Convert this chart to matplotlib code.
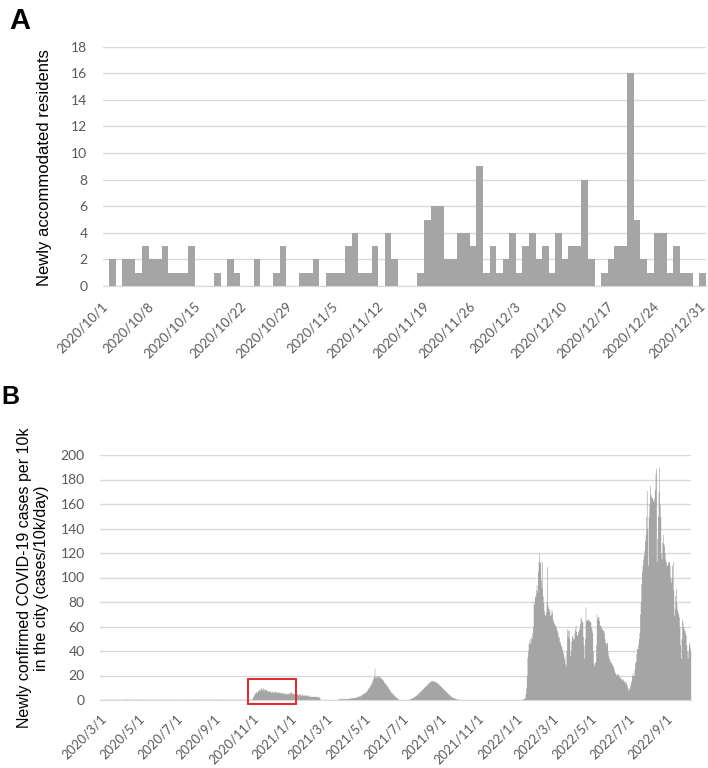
import numpy as np
import matplotlib
matplotlib.use('Agg')
import matplotlib.pyplot as plt
from matplotlib.patches import Rectangle

# ---------------- Panel A data (2020/10/1 - 2020/12/31) ----------------
residents_oct = [0, 2, 0, 2, 2, 1, 3, 2, 2, 3,  1, 1, 1, 3, 0, 0, 0, 1, 0, 2,
                 1, 0, 0, 2, 0, 0, 1, 3, 0, 0,  1]
residents_nov = [1, 2, 0, 1, 1, 1, 3, 4, 1, 1,  3, 0, 4, 2, 0, 0, 0, 1, 5, 6,
                 6, 2, 2, 4, 4, 3, 9, 1, 3, 1]
residents_dec = [2, 4, 1, 3, 4, 2, 3, 1, 4, 2,  3, 3, 8, 2, 0, 1, 2, 3, 3, 16,
                 5, 2, 1, 4, 4, 1, 3, 1, 1, 0,  1]
a_tick_labels = ['2020/10/1', '2020/10/8', '2020/10/15', '2020/10/22', '2020/10/29',
                 '2020/11/5', '2020/11/12', '2020/11/19', '2020/11/26', '2020/12/3',
                 '2020/12/10', '2020/12/17', '2020/12/24', '2020/12/31']

# ---------------- Panel B data (daily, from 2020/2/23) ----------------
cases_2020_start = '2020-02-23'
cases_2020 = [
    .5, .5, .5, .5, .5, .5, .5,                                             # Feb 23-29
    .5, .5, .5, .5, .5, .5, .5, .5, .5, .5,  .5, .5, .5, .5, .5, .5, .5, .5, .5, .5,
    .5, .5, .5, .5, 0, 0, 0, .5, .5, .5,  .5,                               # Mar
    .6, .6, .6, .6, .6, .6, .6, .6, .6, .6,  .6, .6, .6, .6, .6, .6, .6, .6, .6, .6,
    .6, .6, .6, .6, .6, .6, .6, .6, .6, .6,                                 # Apr
    .5, .5, .5, .5, .5, .5, .5, .5, .5, .5,  .5, .5, .5, .5, .5, .5, .5, .5, .5, .5,
    .5, .5, .5, .5, .5, .5, .5, .5, .5, .5,  .5,                            # May
    .5, .5, .5, .5, .5, .5, .5, .5, .5, .5,  .5, .5, .5, .5, .5, .5, .5, .5, .5, .5,
    .5, .5, .5, .5, .5, .5, 0, 0, 0, .5,                                    # Jun
    .5, .5, .5, .5, .5, .5, .5, .5, .5, .5,  .5, .5, .5, .5, .5, .5, .5, .5, .5, .5,
    .5, .5, .5, .5, .5, .5, .5, .5, .5, .5,  .5,                            # Jul
    .6, .6, .6, .6, .6, .6, .6, .6, .6, .6,  .6, .6, .6, .6, .6, .6, .6, .6, .6, .6,
    .6, .6, .6, .6, .6, .6, .6, .6, .6, .6,  .6,                            # Aug
    .5, .5, .5, .5, .5, .5, .5, .5, .5, .5,  .5, .5, .5, .5, .5, .5, .5, .5, .5, .5,
    .5, .5, .5, .5, .5, .5, .5, .5, .5, .5,                                 # Sep
    .5, .5, .5, .5, .5, .5, .5, .5, .5, .5,  .5, .5, .5, .5, .5, .5, .5, .5, .5, .5,
    .5, .5, .5, .5, 1, 2, 3, 4, 5, 6,  6,                                   # Oct
    7, 6, 7, 8, 8, 9, 8, 9, 10, 9,  8, 10, 9, 8, 9, 8, 9, 8, 7, 8,
    7, 7, 8, 7, 6, 7, 7, 6, 6, 7,                                           # Nov
    7, 7, 6, 7, 6, 6, 7, 6, 6, 6,  6, 5, 6, 6, 5, 6, 5, 5, 6, 5,
    5, 5, 6, 5, 6, 6, 7, 6, 5, 6,  5,                                       # Dec
]
cases_2021_start = '2021-01-01'
cases_2021 = [
    5, 5, 6, 5, 5, 5, 4, 5, 5, 4,  5, 4, 4, 5, 4, 4, 4, 4, 4, 4,
    4, 4, 3, 4, 4, 3, 3, 3, 3, 3,  3,                                       # Jan
    3, 3, 3, 3, 3, 3, 3, 2, 3, 3,  2, 1, .5, .3, .3, .3, .3, .3, .3, .3,
    .3, .3, .3, .3, .3, .3, .3, .3,                                         # Feb
    .3, .3, .3, .3, .3, .3, .3, .3, .3, .3,  .3, .3, .3, 1, 1, 1.5, 1, 1, 1, 1.5,
    1, 1, 1, 1.5, 1, 1, 1, 1.5, 1, 1.5,  1.5,                               # Mar
    1.5, 1.5, 2, 1.5, 2, 2, 2, 2, 2, 2,  2, 2.5, 3, 3, 3, 3.5, 3, 4, 4, 4,
    5, 5, 5, 6, 6, 6, 7, 7, 8, 9,                                           # Apr
    10, 10, 11, 12, 13, 14, 15, 17, 18, 19,  26, 19, 18, 20, 19, 20, 19, 20, 18, 19,
    18, 18, 17, 17, 16, 15, 14, 14, 13, 12,  12,                            # May
    11, 10, 9, 9, 8, 7, 6, 6, 5, 5,  4, 4, 3, 3, 2, 2, 1.5, 1, .5, .5,
    .3, .3, .3, .3, .3, .3, .3, .3, .3, .3,                                 # Jun
    .3, .3, .3, .3, .5, .5, 1, 1, 1.5, 1.5,  2, 2, 2.5, 3, 3, 3.5, 4, 4, 5, 5,
    6, 6, 7, 7, 8, 8, 9, 9, 10, 10,  11,                                    # Jul
    11, 12, 12, 13, 13, 14, 14, 15, 15, 16,  15, 16, 16, 15, 16, 15, 15, 15, 14, 14,
    14, 13, 13, 12, 12, 11, 11, 10, 10, 9,  9,                              # Aug
    8, 8, 7, 7, 6, 6, 5, 5, 4, 4,  3, 3, 3, 2, 2, 2, 1.5, 1.5, 1, 1,
    1, .5, .5, .5, .3, .3, .3, .3, .3, .3,                                  # Sep
    .2, .2, .2, .2, .2, .2, .2, .2, .2, .2,  .2, .2, .2, .2, .2, .2, .2, .2, .2, .2,
    .2, .2, .2, .2, .2, .2, .2, .2, .2, .2,  .2,                            # Oct
    .2, .2, .2, .2, .2, .2, .2, .2, .2, .2,  .2, .2, .2, .2, .2, .2, .2, .2, .2, .2,
    .2, .2, .2, .2, .2, .2, .2, .2, .2, .2,                                 # Nov
    .2, .2, .2, .2, .2, .2, .2, .2, .2, .2,  .2, .2, .2, .2, .2, .2, .2, .2, .2, .2,
    .2, .2, .2, .2, .2, .2, .2, .2, .2, .2,  .2,                            # Dec
]
cases_2022_start = '2022-01-01'
cases_2022 = [
    .3, .3, .5, .5, .5, 1, 1, 1.5, 2, 5,  10, 20, 35, 40, 46, 48, 50, 46, 52, 50,
    55, 60, 81, 78, 85, 84, 90, 94, 88, 105,  113,                          # Jan
    120, 112, 113, 98, 92, 113, 85, 80, 73, 70,  69, 72, 80, 109, 77, 75, 74, 72, 69, 70,
    74, 72, 66, 64, 63, 62, 61, 60,                                         # Feb
    58, 57, 55, 51, 52, 48, 47, 45, 44, 42,  40, 38, 34, 36, 30, 28, 40, 58, 52, 57,
    57, 50, 36, 40, 48, 53, 52, 50, 50, 55,  58,                            # Mar
    61, 56, 53, 53, 56, 58, 58, 62, 68, 66,  64, 64, 52, 45, 34, 50, 76, 65, 65, 66,
    66, 65, 65, 64, 64, 60, 58, 55, 40, 30,                                 # Apr
    28, 31, 31, 45, 70, 66, 68, 68, 65, 61,  61, 60, 58, 58, 57, 57, 55, 50, 47, 45,
    47, 47, 40, 36, 34, 33, 31, 31, 30, 29,  28,                            # May
    27, 25, 23, 22, 21, 20, 22, 21, 21, 19,  19, 18, 17, 18, 17, 16, 17, 15, 16, 14,
    15, 13, 12, 10, 8, 10, 9, 12, 14, 16,                                   # Jun
    20, 22, 20, 20, 25, 31, 31, 38, 42, 42,  45, 50, 55, 70, 80, 95, 105, 110, 115, 118,
    122, 130, 135, 150, 171, 140, 110, 150, 160, 175,  168,                 # Jul
    166, 165, 165, 163, 162, 165, 172, 185, 189, 113,  132, 150, 170, 190, 160, 150, 120, 115, 129, 135,
    128, 126, 120, 115, 113, 110, 110, 112, 113, 113,  110,                 # Aug
    100, 96, 100, 110, 113, 90, 69, 75, 85, 91,  80, 74, 72, 70, 68, 60, 45, 34, 50, 66,
    64, 60, 58, 57, 55, 53, 45, 40, 34, 40,                                 # Sep
    47, 45, 42, 40,                                                         # Oct 1-4
]
b_tick_labels = ['2020/3/1', '2020/5/1', '2020/7/1', '2020/9/1', '2020/11/1',
                 '2021/1/1', '2021/3/1', '2021/5/1', '2021/7/1', '2021/9/1',
                 '2021/11/1', '2022/1/1', '2022/3/1', '2022/5/1', '2022/7/1',
                 '2022/9/1']
highlight_start, highlight_end = '2020-10-19', '2021-01-05'

# ---------------- styling ----------------
BAR = '#a5a5a5'
GRID = '#d9d9d9'
TICK = '#595959'
TFONT = ['Lato', 'DejaVu Sans']
LFONT = ['Liberation Sans', 'DejaVu Sans']


def to_date(s):
    y, m, d = (int(v) for v in s.replace('-', '/').split('/'))
    return np.datetime64(f'{y:04d}-{m:02d}-{d:02d}')


fig = plt.figure(figsize=(7.08, 7.68), dpi=100)
W, H = 708, 768

# ---------------- Panel A ----------------
axA = fig.add_axes([102.7 / W, 1 - 286 / H, (706 - 102.7) / W, (286 - 46.7) / H])
residents = residents_oct + residents_nov + residents_dec
xa = np.arange(len(residents))
axA.bar(xa, residents, width=1.0, color=BAR, linewidth=0, zorder=2)
axA.set_xlim(-0.5, len(residents) - 0.5)
axA.set_ylim(0, 18)
axA.set_yticks(np.arange(0, 19, 2))
axA.set_xticks(xa[::7])
axA.set_xticklabels(a_tick_labels, rotation=45, ha='right', va='center',
                    rotation_mode='anchor', fontsize=9.5, color=TICK, family=TFONT)
axA.tick_params(axis='x', length=0, pad=13)
axA.tick_params(axis='y', length=0, pad=11, labelsize=10, labelcolor=TICK)
for lab in axA.get_yticklabels():
    lab.set_family(TFONT)
axA.grid(axis='y', color=GRID, linewidth=1, zorder=0)
axA.set_axisbelow(True)
for s in ['top', 'right', 'left']:
    axA.spines[s].set_visible(False)
axA.spines['bottom'].set_color(GRID)

# ---------------- Panel B ----------------
axB = fig.add_axes([100 / W, 1 - 700 / H, 591 / W, 245 / H])
t0 = to_date(cases_2020_start)
t20 = (to_date(cases_2020_start) - t0).astype(int) + np.arange(len(cases_2020))
t21 = (to_date(cases_2021_start) - t0).astype(int) + np.arange(len(cases_2021))
t22 = (to_date(cases_2022_start) - t0).astype(int) + np.arange(len(cases_2022))
tb = np.concatenate([t20, t21, t22])
vb = np.array(cases_2020 + cases_2021 + cases_2022, dtype=float)
axB.fill_between(tb, vb, step='mid', color=BAR, linewidth=0, zorder=2)
axB.set_xlim(tb[0] - 0.5, tb[-1] + 0.5)
axB.set_ylim(0, 200)
axB.set_yticks(np.arange(0, 201, 20))
tick_pos = [(to_date(s) - t0).astype(int) for s in b_tick_labels]
axB.set_xticks(tick_pos)
axB.set_xticklabels(b_tick_labels, rotation=45, ha='right', va='center',
                    rotation_mode='anchor', fontsize=9.3, color=TICK, family=TFONT)
axB.tick_params(axis='x', length=0, pad=12)
axB.tick_params(axis='y', length=0, pad=11, labelsize=10, labelcolor=TICK)
for lab in axB.get_yticklabels():
    lab.set_family(TFONT)
axB.grid(axis='y', color=GRID, linewidth=1, zorder=0)
axB.set_axisbelow(True)
for s in ['top', 'right', 'left']:
    axB.spines[s].set_visible(False)
axB.spines['bottom'].set_color(GRID)

hs = (to_date(highlight_start) - t0).astype(int)
he = (to_date(highlight_end) - t0).astype(int)
axB.add_patch(Rectangle((hs, -3), he - hs, 20.5, fill=False, edgecolor='#e8262a',
                        linewidth=1.4, clip_on=False, zorder=5))

# ---------------- labels ----------------
fig.text(9 / W, 1 - 21 / H, 'A', fontsize=21, fontweight='bold', family=LFONT,
         ha='left', va='center')
fig.text(1 / W, 1 - 397 / H, 'B', fontsize=18, fontweight='bold', family=LFONT,
         ha='left', va='center')
fig.text(45 / W, 1 - 168 / H, 'Newly accommodated residents', rotation=90,
         fontsize=12, family=LFONT, ha='center', va='center')
fig.text(33 / W, 1 - 578 / H,
         'Newly confirmed COVID-19 cases per 10k\nin the city (cases/10k/day)',
         rotation=90, fontsize=11.5, family=LFONT, ha='center', va='center',
         multialignment='center', linespacing=1.15)

fig.savefig('out.png', dpi=100)
